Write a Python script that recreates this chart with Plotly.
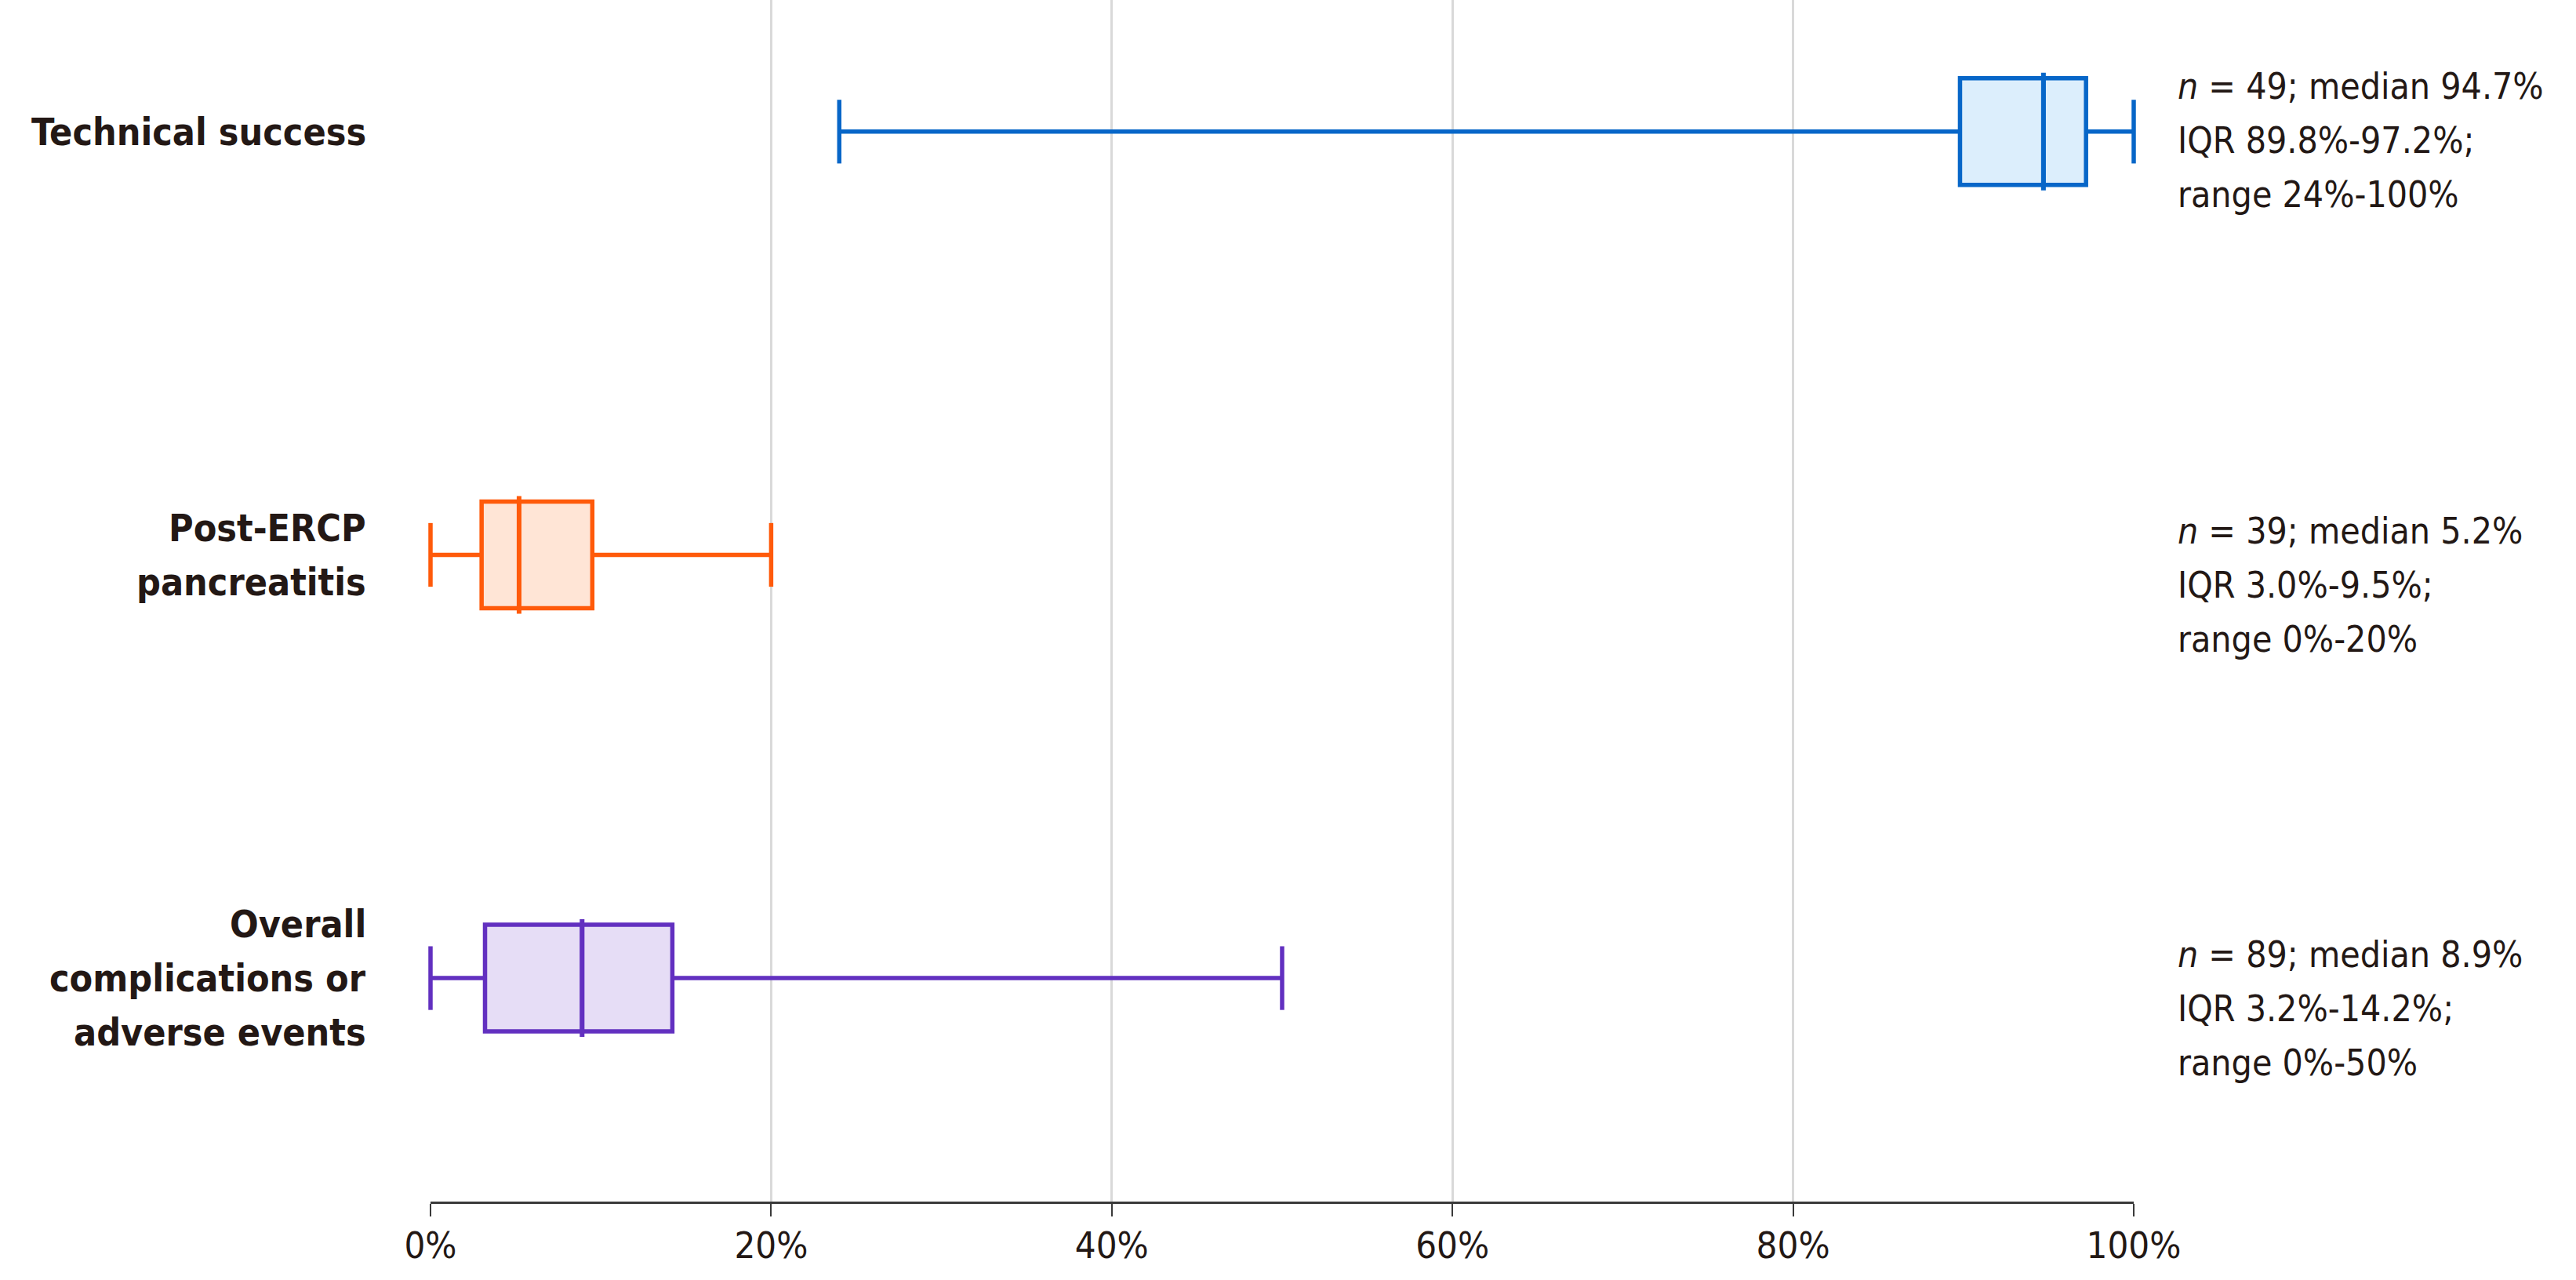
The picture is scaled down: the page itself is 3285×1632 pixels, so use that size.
import plotly.graph_objects as go

# ---- data ----
categories = ["Technical success", "Post-ERCP pancreatitis", "Overall complications or adverse events"]
label_lines = [["Technical success"], ["Post-ERCP", "pancreatitis"], ["Overall", "complications or", "adverse events"]]
n_studies = [49, 39, 89]
minimum = [24, 0, 0]
q1 = [89.8, 3.0, 3.2]
median = [94.7, 5.2, 8.9]
q3 = [97.2, 9.5, 14.2]
maximum = [100, 20, 50]
x_tick_values = [0, 20, 40, 60, 80, 100]
x_tick_labels = ["0%", "20%", "40%", "60%", "80%", "100%"]

# ---- styles ----
line_colors = ["#0766C8", "#FF5A0A", "#6230C0"]
fill_colors = ["#DCEEFC", "#FFE5D6", "#E6DDF6"]
text_color = "#231815"
FONT = "DejaVu Sans Condensed, Liberation Sans, sans-serif"
BOX_W = 0.252
MED_HALF = 0.139
LINE_STEP = 69
stat_shift = [11, 39, 39]

fig = go.Figure()
for i, cat in enumerate(categories):
    fig.add_trace(go.Box(
        name=cat, orientation="h", y=[i],
        q1=[q1[i]], median=[median[i]], q3=[q3[i]],
        lowerfence=[minimum[i]], upperfence=[maximum[i]],
        width=BOX_W, whiskerwidth=0,
        line=dict(color=line_colors[i], width=5.5),
        fillcolor=fill_colors[i], boxpoints=False,
        showlegend=False, hoverinfo="skip",
    ))
    # median line (slightly taller than the box)
    fig.add_trace(go.Scatter(
        x=[median[i], median[i]], y=[i - MED_HALF, i + MED_HALF],
        mode="lines", line=dict(color=line_colors[i], width=6),
        showlegend=False, hoverinfo="skip",
    ))
    # whisker caps
    fig.add_trace(go.Scatter(
        x=[minimum[i], maximum[i]], y=[i, i], mode="markers",
        marker=dict(symbol="line-ns", size=58,
                    line=dict(width=5.5, color=line_colors[i])),
        cliponaxis=False, showlegend=False, hoverinfo="skip",
    ))

annotations = []
for i, lines in enumerate(label_lines):
    nl = len(lines)
    for k, t in enumerate(lines):
        annotations.append(dict(
            xref="paper", x=0, xanchor="right", xshift=-80,
            yref="y", y=i, yanchor="middle",
            yshift=-(k - (nl - 1) / 2) * LINE_STEP,
            text="<b>" + t + "</b>", showarrow=False, align="right",
            font=dict(family=FONT, size=48, color=text_color),
        ))
    stats = [
        f"<i>n</i> = {n_studies[i]}; median {median[i]:.1f}%",
        f"IQR {q1[i]:.1f}%-{q3[i]:.1f}%;",
        f"range {minimum[i]:g}%-{maximum[i]:g}%",
    ]
    for k, t in enumerate(stats):
        annotations.append(dict(
            xref="paper", x=1, xanchor="left", xshift=54,
            yref="y", y=i, yanchor="middle",
            yshift=-(stat_shift[i] + (k - 1) * LINE_STEP),
            text=t, showarrow=False, align="left",
            font=dict(family=FONT, size=46, color=text_color),
        ))

fig.update_layout(
    width=3285, height=1632,
    margin=dict(l=549, r=564, t=0, b=100),
    paper_bgcolor="white", plot_bgcolor="white",
    annotations=annotations,
    xaxis=dict(
        range=[0, 100], tickvals=x_tick_values, ticktext=x_tick_labels,
        showgrid=True, gridcolor="#d9d9d9", gridwidth=3,
        zeroline=True, zerolinecolor="rgba(0,0,0,0)", zerolinewidth=1,
        showline=True, linecolor="#3a3a3a", linewidth=3,
        ticks="outside", ticklen=16, tickwidth=2, tickcolor="#3a3a3a",
        ticklabelstandoff=-3,
        tickfont=dict(family=FONT, size=47, color=text_color),
        fixedrange=True,
    ),
    yaxis=dict(
        range=[2.528, -0.311], showticklabels=False, showgrid=False,
        zeroline=False, showline=False, fixedrange=True,
    ),
)

fig.write_html(
    "out.html",
    config={"displayModeBar": False, "staticPlot": True},
    post_script="document.body.style.margin='0';",
)
